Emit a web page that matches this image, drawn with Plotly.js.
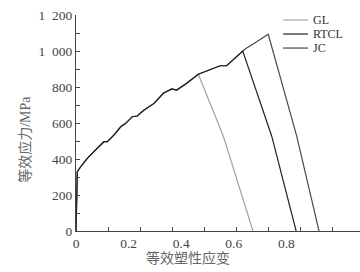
<!DOCTYPE html>
<html>
<head>
<meta charset="utf-8">
<script src="https://cdn.plot.ly/plotly-3.0.1.min.js"></script>
<style>html,body{margin:0;padding:0;background:#fff;}#chart{width:360px;height:272px;}</style>
</head>
<body>
<div id="chart"></div>
<script>
// Shared hardening curve (equivalent plastic strain, equivalent stress MPa)
const baseStrain = [0, 0.002, 0.004, 0.005, 0.018, 0.043, 0.068, 0.087, 0.106, 0.119, 0.144, 0.170, 0.189, 0.214, 0.233, 0.259, 0.297, 0.332, 0.364, 0.383, 0.421, 0.465, 0.503, 0.548, 0.573, 0.598, 0.634, 0.643, 0.687, 0.731];
const baseStress = [0, 172, 283, 329, 357, 404, 441, 468, 496, 496, 533, 579, 598, 635, 639, 672, 709, 765, 789, 783, 821, 871, 894, 918, 918, 950, 1000, 1011, 1052, 1093];

const seriesNames = ['GL', 'RTCL', 'JC'];
// index in base curve where each criterion starts softening
const peakIndex = [21, 26, 29];
// softening branches
const glDropStrain = [0.560, 0.673];
const glDropStress = [528, 0];
const rtclDropStrain = [0.744, 0.837];
const rtclDropStress = [528, 0];
const jcDropStrain = [0.839, 0.924];
const jcDropStress = [528, 0];

const xTickVals = [0, 0.2, 0.4, 0.6, 0.8];
const xTickText = ['0', '0.2', '0.4', '0.6', '0.8'];
const yTickVals = [0, 200, 400, 600, 800, 1000, 1200];
const yTickText = ['0', '200', '400', '600', '800', '1\u2002000', '1\u2002200'];
const xTitle = '等效塑性应变';
const yTitle = '等效应力/MPa';

const colors = {GL: '#a3a3a3', RTCL: '#222222', JC: '#4a4a4a'};
const drops = {
  GL: [glDropStrain, glDropStress],
  RTCL: [rtclDropStrain, rtclDropStress],
  JC: [jcDropStrain, jcDropStress]
};

function build(i) {
  const name = seriesNames[i];
  const k = peakIndex[i] + 1;
  return {
    type: 'scatter', mode: 'lines', name: name,
    x: baseStrain.slice(0, k).concat(drops[name][0]),
    y: baseStress.slice(0, k).concat(drops[name][1]),
    line: {color: colors[name], width: 1.2},
    showlegend: false, hoverinfo: 'skip'
  };
}
// draw order: GL, JC, RTCL
const data = [build(0), build(2), build(1)];

const serif = 'Liberation Serif, Times New Roman, serif';
const cjk = 'Liberation Serif, Noto Sans CJK SC, serif';

// legend built from series names
const shapes = [];
const annotations = [];
const legY = [0.977, 0.912, 0.847];
seriesNames.forEach((n, i) => {
  shapes.push({type: 'line', xref: 'paper', yref: 'paper', x0: 0.729, x1: 0.817, y0: legY[i], y1: legY[i],
    line: {color: colors[n], width: 1.2}});
  annotations.push({xref: 'paper', yref: 'paper', x: 0.832, y: legY[i], xanchor: 'left', yanchor: 'middle',
    text: n, showarrow: false, borderpad: 0, font: {family: serif, size: 12, color: '#333'}});
});
annotations.push({xref: 'paper', yref: 'paper', x: 0.394, y: -0.125, xanchor: 'center', yanchor: 'middle',
  text: xTitle, showarrow: false, font: {family: cjk, size: 14, color: '#666'}});
annotations.push({xref: 'paper', yref: 'paper', x: -0.18, y: 0.426, xanchor: 'center', yanchor: 'middle',
  text: yTitle, textangle: -90, showarrow: false, font: {family: cjk, size: 14, color: '#666'}});

const layout = {
  width: 360, height: 272,
  margin: {l: 76, r: 0, t: 15, b: 41, pad: 0},
  paper_bgcolor: '#fff', plot_bgcolor: '#fff',
  showlegend: false,
  xaxis: {
    range: [0, 284 / 263], showgrid: false, zeroline: false,
    showline: true, linecolor: '#444', linewidth: 1,
    tickmode: 'array', tickvals: xTickVals, ticktext: xTickText,
    ticks: '', tickfont: {family: serif, size: 13.5, color: '#444'},
    minor: {tickmode: 'linear', tick0: 0, dtick: 32 / 263, ticks: 'inside', ticklen: 4, tickcolor: '#444', showgrid: false}
  },
  yaxis: {
    range: [0, 1200], showgrid: false, zeroline: false,
    showline: true, linecolor: '#444', linewidth: 1,
    tickmode: 'array', tickvals: yTickVals, ticktext: yTickText,
    ticks: 'inside', ticklen: 4, tickcolor: '#444',
    tickfont: {family: serif, size: 13.5, color: '#444'},
    minor: {tickmode: 'linear', tick0: 0, dtick: 100, ticks: 'inside', ticklen: 4, tickcolor: '#444', showgrid: false}
  },
  shapes: shapes,
  annotations: annotations
};

Plotly.newPlot('chart', data, layout, {staticPlot: true, displayModeBar: false});
</script>
</body>
</html>
